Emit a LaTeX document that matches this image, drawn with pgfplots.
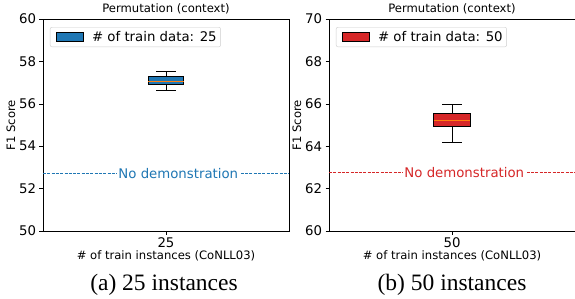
\documentclass[border=0pt]{standalone}
\usepackage{pgfplots}
\pgfplotsset{compat=1.18}
\usepackage{fontspec}
\setmainfont{DejaVu Sans}
\newfontfamily\capfont{Liberation Serif}
\definecolor{tabblue}{HTML}{1F77B4}
\definecolor{tabred}{HTML}{D62728}
\definecolor{taborange}{HTML}{FF7F0E}
\definecolor{legframe}{gray}{0.8}

\pgfplotsset{
  myax/.style={
    scale only axis, width=246pt, height=212pt,
    xmin=-1, xmax=1, xtick={0},
    tick pos=left, tick align=outside,
    major tick length=3.5pt,
    every tick/.style={black, line width=0.6pt},
    axis line style={line width=0.7pt},
    ytick distance=2,
    /pgf/number format/assume math mode=true,
    tick label style={font=\fontsize{13.3}{13.3}\selectfont},
    title style={font=\fontsize{11.6}{11.6}\selectfont, yshift=-5pt},
    xlabel style={font=\fontsize{11.6}{11.6}\selectfont, yshift=4pt},
    ylabel style={font=\fontsize{11.6}{11.6}\selectfont, yshift=-3pt},
    title={Permutation (context)},
    xlabel={\# of train instances (CoNLL03)},
    ylabel={F1 Score},
    legend style={at={(0.028,0.962)}, anchor=north west, draw=legframe,
      rounded corners=2pt, font=\fontsize{13.3}{13.3}\selectfont,
      inner xsep=2pt, inner ysep=2pt},
    legend cell align=left,
  }
}

\begin{document}
\begin{tikzpicture}
\useasboundingbox (0pt,0pt) rectangle (575pt,298pt);

\begin{axis}[myax, at={(43pt,67pt)}, anchor=south west,
  ymin=50, ymax=60, xticklabels={25}]
\addlegendimage{legend image code/.code={\draw[sharp corners, fill=tabblue, draw=black, line width=0.7pt] (4pt,-4.5pt) rectangle (31pt,4.5pt); \path[draw=none] (0pt,0pt) -- (38pt,0pt);}}
\addlegendentry{\# of train data: 25}
\addplot[tabblue, line width=0.7pt, dash pattern=on 3pt off 1.3pt, forget plot] coordinates {(-1,52.72) (1,52.72)};
\node[fill=white, text=tabblue, font=\fontsize{13.3}{13.3}\selectfont, inner sep=1.5pt] at (axis cs:0.1,52.72) {No demonstration};
% box
\addplot[fill=tabblue, draw=black, line width=0.8pt, forget plot] coordinates {(-0.145,56.92) (0.145,56.92) (0.145,57.28) (-0.145,57.28)} -- cycle;
\addplot[taborange, line width=0.8pt, forget plot] coordinates {(-0.145,57.07) (0.145,57.07)};
\addplot[black, line width=0.8pt, forget plot] coordinates {(0,57.28) (0,57.52)};
\addplot[black, line width=0.8pt, forget plot] coordinates {(0,56.92) (0,56.62)};
\addplot[black, line width=0.8pt, forget plot] coordinates {(-0.08,57.52) (0.08,57.52)};
\addplot[black, line width=0.8pt, forget plot] coordinates {(-0.08,56.62) (0.08,56.62)};
\end{axis}

\begin{axis}[myax, at={(329pt,67pt)}, anchor=south west,
  ymin=60, ymax=70, xticklabels={50}]
\addlegendimage{legend image code/.code={\draw[sharp corners, fill=tabred, draw=black, line width=0.7pt] (4pt,-4.5pt) rectangle (31pt,4.5pt); \path[draw=none] (0pt,0pt) -- (38pt,0pt);}}
\addlegendentry{\# of train data: 50}
\addplot[tabred, line width=0.7pt, dash pattern=on 3pt off 1.3pt, forget plot] coordinates {(-1,62.75) (1,62.75)};
\node[fill=white, text=tabred, font=\fontsize{13.3}{13.3}\selectfont, inner sep=1.5pt] at (axis cs:0.1,62.75) {No demonstration};
% box
\addplot[fill=tabred, draw=black, line width=0.8pt, forget plot] coordinates {(-0.15,64.95) (0.15,64.95) (0.15,65.55) (-0.15,65.55)} -- cycle;
\addplot[taborange, line width=0.8pt, forget plot] coordinates {(-0.15,65.22) (0.15,65.22)};
\addplot[black, line width=0.8pt, forget plot] coordinates {(0,65.55) (0,65.95)};
\addplot[black, line width=0.8pt, forget plot] coordinates {(0,64.95) (0,64.17)};
\addplot[black, line width=0.8pt, forget plot] coordinates {(-0.08,65.95) (0.08,65.95)};
\addplot[black, line width=0.8pt, forget plot] coordinates {(-0.08,64.17) (0.08,64.17)};
\end{axis}

\node[font=\capfont\fontsize{23.5}{23.5}\selectfont, anchor=base] at (164pt,8pt) {(a) 25 instances};
\node[font=\capfont\fontsize{23.5}{23.5}\selectfont, anchor=base] at (452pt,8pt) {(b) 50 instances};
\end{tikzpicture}
\end{document}
